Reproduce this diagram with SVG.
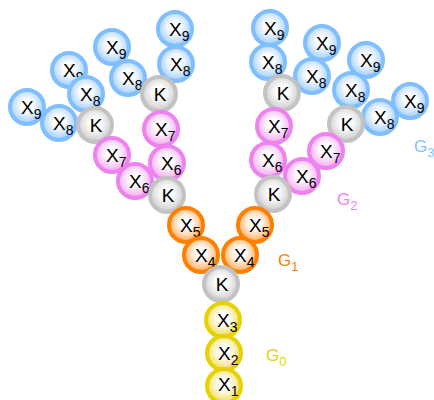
<svg xmlns="http://www.w3.org/2000/svg" width="434" height="400" viewBox="0 0 434 400">
  <defs>
    <radialGradient id="gBlue" cx="50%" cy="45%" r="55%">
      <stop offset="0" stop-color="#ffffff"/>
      <stop offset="0.3" stop-color="#ffffff"/>
      <stop offset="1" stop-color="#9ccbfb"/>
    </radialGradient>
    <radialGradient id="gPink" cx="50%" cy="45%" r="55%">
      <stop offset="0" stop-color="#ffffff"/>
      <stop offset="0.3" stop-color="#ffffff"/>
      <stop offset="1" stop-color="#f2a6f2"/>
    </radialGradient>
    <radialGradient id="gGray" cx="50%" cy="45%" r="55%">
      <stop offset="0" stop-color="#ffffff"/>
      <stop offset="0.3" stop-color="#ffffff"/>
      <stop offset="1" stop-color="#cacaca"/>
    </radialGradient>
    <radialGradient id="gOrange" cx="50%" cy="45%" r="55%">
      <stop offset="0" stop-color="#ffffff"/>
      <stop offset="0.3" stop-color="#ffffff"/>
      <stop offset="1" stop-color="#ffa850"/>
    </radialGradient>
    <radialGradient id="gYellow" cx="50%" cy="45%" r="55%">
      <stop offset="0" stop-color="#ffffff"/>
      <stop offset="0.3" stop-color="#ffffff"/>
      <stop offset="1" stop-color="#ecdc50"/>
    </radialGradient>
  </defs>
  <style>
    circle { stroke-width: 4; }
    .b circle { fill: url(#gBlue); stroke: #80bfff; }
    .p circle { fill: url(#gPink); stroke: #ee82ee; }
    .k circle { fill: url(#gGray); stroke: #c3c3c3; }
    .o circle { fill: url(#gOrange); stroke: #ff8000; }
    .y circle { fill: url(#gYellow); stroke: #e5d200; }
    text { font-family: "Liberation Sans", Arial, sans-serif; font-size: 19px; fill: #000; }
    .sub { font-size: 14px; }
    .lbl { font-size: 17px; }
    .lbl .sub { font-size: 13px; }
  </style>

  <!-- generation 3: outermost pairs (X9 under X8) -->
  <g id="n_l1_x9" class="b"><circle cx="27" cy="107" r="17"/><text x="21" y="114">X<tspan class="sub" dy="5">9</tspan></text></g>
  <g id="n_l1_x8" class="b"><circle cx="59" cy="123" r="17"/><text x="53" y="130">X<tspan class="sub" dy="5">8</tspan></text></g>
  <g id="n_l2_x9" class="b"><circle cx="69" cy="70" r="17"/><text x="63" y="77">X<tspan class="sub" dy="5">9</tspan></text></g>
  <g id="n_l2_x8" class="b"><circle cx="86" cy="94" r="17"/><text x="80" y="101">X<tspan class="sub" dy="5">8</tspan></text></g>
  <g id="n_l3_x9" class="b"><circle cx="112" cy="47" r="17"/><text x="106" y="54">X<tspan class="sub" dy="5">9</tspan></text></g>
  <g id="n_l3_x8" class="b"><circle cx="128" cy="78" r="17"/><text x="122" y="85">X<tspan class="sub" dy="5">8</tspan></text></g>
  <g id="n_l4_x9" class="b"><circle cx="175" cy="29" r="17"/><text x="169" y="36">X<tspan class="sub" dy="5">9</tspan></text></g>
  <g id="n_l4_x8" class="b"><circle cx="176" cy="64" r="17"/><text x="170" y="71">X<tspan class="sub" dy="5">8</tspan></text></g>
  <g id="n_r1_x9" class="b"><circle cx="270" cy="28" r="17"/><text x="264" y="35">X<tspan class="sub" dy="5">9</tspan></text></g>
  <g id="n_r1_x8" class="b"><circle cx="268" cy="62" r="17"/><text x="262" y="69">X<tspan class="sub" dy="5">8</tspan></text></g>
  <g id="n_r2_x9" class="b"><circle cx="322" cy="43" r="17"/><text x="316" y="50">X<tspan class="sub" dy="5">9</tspan></text></g>
  <g id="n_r2_x8" class="b"><circle cx="312" cy="76" r="17"/><text x="306" y="83">X<tspan class="sub" dy="5">8</tspan></text></g>
  <g id="n_r3_x9" class="b"><circle cx="366" cy="60" r="17"/><text x="360" y="67">X<tspan class="sub" dy="5">9</tspan></text></g>
  <g id="n_r3_x8" class="b"><circle cx="351" cy="90" r="17"/><text x="345" y="97">X<tspan class="sub" dy="5">8</tspan></text></g>
  <g id="n_r4_x9" class="b"><circle cx="410" cy="101" r="17"/><text x="404" y="108">X<tspan class="sub" dy="5">9</tspan></text></g>
  <g id="n_r4_x8" class="b"><circle cx="380" cy="117" r="17"/><text x="374" y="124">X<tspan class="sub" dy="5">8</tspan></text></g>

  <!-- branching units of generation 2 -->
  <g id="n_l_k2a" class="k"><circle cx="95" cy="125" r="17"/><text x="96" y="132" text-anchor="middle">K</text></g>
  <g id="n_l_k2b" class="k"><circle cx="159" cy="94" r="17"/><text x="160" y="101" text-anchor="middle">K</text></g>
  <g id="n_r_k2a" class="k"><circle cx="282" cy="93" r="17"/><text x="283" y="100" text-anchor="middle">K</text></g>
  <g id="n_r_k2b" class="k"><circle cx="346" cy="124" r="17"/><text x="347" y="131" text-anchor="middle">K</text></g>

  <!-- generation 2 -->
  <g id="n_l_x7a" class="p"><circle cx="112" cy="155" r="17"/><text x="106" y="162">X<tspan class="sub" dy="5">7</tspan></text></g>
  <g id="n_l_x6a" class="p"><circle cx="135" cy="181" r="17"/><text x="129" y="188">X<tspan class="sub" dy="5">6</tspan></text></g>
  <g id="n_l_x7b" class="p"><circle cx="161" cy="129" r="17"/><text x="155" y="136">X<tspan class="sub" dy="5">7</tspan></text></g>
  <g id="n_l_x6b" class="p"><circle cx="167" cy="163" r="17"/><text x="161" y="170">X<tspan class="sub" dy="5">6</tspan></text></g>
  <g id="n_r_x7a" class="p"><circle cx="274" cy="126" r="17"/><text x="268" y="133">X<tspan class="sub" dy="5">7</tspan></text></g>
  <g id="n_r_x6a" class="p"><circle cx="268" cy="160" r="17"/><text x="262" y="167">X<tspan class="sub" dy="5">6</tspan></text></g>
  <g id="n_r_x7b" class="p"><circle cx="326" cy="151" r="17"/><text x="320" y="158">X<tspan class="sub" dy="5">7</tspan></text></g>
  <g id="n_r_x6b" class="p"><circle cx="302" cy="176" r="17"/><text x="296" y="183">X<tspan class="sub" dy="5">6</tspan></text></g>

  <!-- branching units of generation 1 -->
  <g id="n_l_k1" class="k"><circle cx="167" cy="195" r="17"/><text x="168" y="202" text-anchor="middle">K</text></g>
  <g id="n_r_k1" class="k"><circle cx="273" cy="194" r="17"/><text x="274" y="201" text-anchor="middle">K</text></g>

  <!-- generation 1 -->
  <g id="n_l_x5" class="o"><circle cx="186" cy="225" r="17"/><text x="180" y="232">X<tspan class="sub" dy="5">5</tspan></text></g>
  <g id="n_r_x5" class="o"><circle cx="255" cy="225" r="17"/><text x="249" y="232">X<tspan class="sub" dy="5">5</tspan></text></g>
  <g id="n_l_x4" class="o"><circle cx="201" cy="255" r="17"/><text x="195" y="262">X<tspan class="sub" dy="5">4</tspan></text></g>
  <g id="n_r_x4" class="o"><circle cx="240" cy="255" r="17"/><text x="234" y="262">X<tspan class="sub" dy="5">4</tspan></text></g>

  <!-- core branching unit -->
  <g id="n_k0" class="k"><circle cx="221" cy="284" r="17"/><text x="222" y="291" text-anchor="middle">K</text></g>

  <!-- generation 0 -->
  <g id="n_x3" class="y"><circle cx="223" cy="320" r="17"/><text x="217" y="327">X<tspan class="sub" dy="5">3</tspan></text></g>
  <g id="n_x2" class="y"><circle cx="224" cy="353" r="17"/><text x="218" y="360">X<tspan class="sub" dy="5">2</tspan></text></g>
  <g id="n_x1" class="y"><circle cx="224" cy="386" r="17"/><text x="218" y="391">X<tspan class="sub" dy="5">1</tspan></text></g>

  <!-- generation labels -->
  <g id="lbl_g0"><text class="lbl" x="266" y="361" style="fill:#e5d200">G<tspan class="sub" dy="5">0</tspan></text></g>
  <g id="lbl_g1"><text class="lbl" x="278" y="266" style="fill:#ff8000">G<tspan class="sub" dy="5">1</tspan></text></g>
  <g id="lbl_g2"><text class="lbl" x="337" y="205" style="fill:#ee82ee">G<tspan class="sub" dy="5">2</tspan></text></g>
  <g id="lbl_g3"><text class="lbl" x="414" y="152" style="fill:#80bfff">G<tspan class="sub" dy="5">3</tspan></text></g>
</svg>
